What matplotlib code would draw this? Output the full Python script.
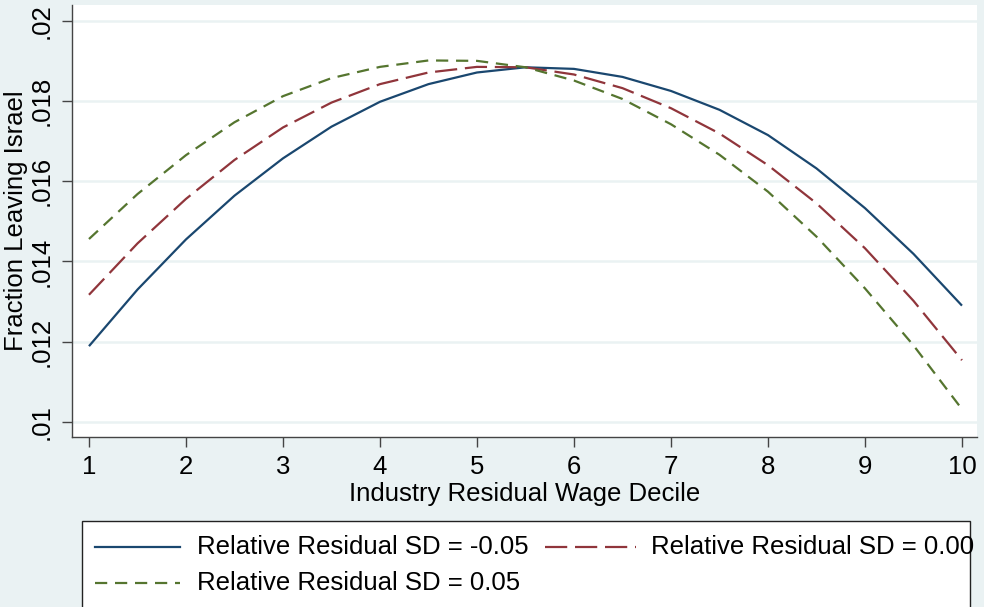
import matplotlib
matplotlib.use("Agg")
import matplotlib.pyplot as plt
from matplotlib.lines import Line2D
from matplotlib.patches import Rectangle

# ---------------- data ----------------
deciles = [1, 1.5, 2, 2.5, 3, 3.5, 4, 4.5, 5, 5.5, 6, 6.5, 7, 7.5, 8, 8.5, 9, 9.5, 10]
sd_neg = [0.01189, 0.01330, 0.01455, 0.01564, 0.01657, 0.01736, 0.01798, 0.01842,
          0.01871, 0.01884, 0.01880, 0.01860, 0.01825, 0.01778, 0.01715, 0.01632,
          0.01533, 0.01419, 0.01290]
sd_zero = [0.01317, 0.01445, 0.01556, 0.01653, 0.01734, 0.01796, 0.01842, 0.01871,
           0.01885, 0.01884, 0.01866, 0.01832, 0.01782, 0.01719, 0.01640, 0.01545,
           0.01433, 0.01302, 0.01154]
sd_pos = [0.01456, 0.01568, 0.01665, 0.01747, 0.01812, 0.01857, 0.01885, 0.01901,
          0.01900, 0.01884, 0.01851, 0.01805, 0.01742, 0.01666, 0.01574, 0.01462,
          0.01333, 0.01191, 0.01032]
series_labels = ["Relative Residual SD = -0.05",
                 "Relative Residual SD = 0.00",
                 "Relative Residual SD = 0.05"]
x_ticks = [1, 2, 3, 4, 5, 6, 7, 8, 9, 10]
y_ticks = [0.010, 0.012, 0.014, 0.016, 0.018, 0.020]
y_ticklabels = [".01", ".012", ".014", ".016", ".018", ".02"]
x_title = "Industry Residual Wage Decile"
y_title = "Fraction Leaving Israel"

# ---------------- style ----------------
W, H = 984, 607
BG = "#EAF2F3"
NAVY = "#1A476F"
MAROON = "#90353B"
GREEN = "#55752F"
FS = 18.5
plt.rcParams["font.family"] = ["Liberation Sans", "DejaVu Sans"]

fig = plt.figure(figsize=(W / 100, H / 100), dpi=100, facecolor=BG)

def fx(px):
    return px / W

def fy(py):
    return 1 - py / H

ax_l, ax_r, ax_t, ax_b = 72, 977, 5, 437
ax = fig.add_axes([fx(ax_l), fy(ax_b), fx(ax_r - ax_l), (ax_b - ax_t) / H])
ax.set_facecolor("white")

styles = [
    dict(color=NAVY, linestyle="-"),
    dict(color=MAROON, linestyle=(0, (10, 3.5))),
    dict(color=GREEN, linestyle=(0, (5.5, 3.5))),
]
for ys, st, lab in zip([sd_neg, sd_zero, sd_pos], styles, series_labels):
    ax.plot(deciles, ys, linewidth=1.6, label=lab, solid_capstyle="butt",
            dash_capstyle="butt", **st)

ax.set_xlim(0.825, 10.155)
ax.set_ylim(0.009626, 0.020392)
ax.set_xticks(x_ticks)
ax.set_xticklabels([str(t) for t in x_ticks], fontsize=FS)
ax.set_yticks(y_ticks)
ax.set_yticklabels(y_ticklabels, fontsize=FS, rotation=90, va="center")
ax.grid(axis="y", color=BG, linewidth=1.8)
ax.set_axisbelow(True)
for s in ["top", "right"]:
    ax.spines[s].set_visible(False)
for s in ["left", "bottom"]:
    ax.spines[s].set_color("#444444")
    ax.spines[s].set_linewidth(1.0)
ax.tick_params(axis="both", length=7, width=1.0, color="#444444", pad=6)

ax.set_xlabel(x_title, fontsize=FS, labelpad=0)
ax.xaxis.set_label_coords(0.5, -0.105)
ax.set_ylabel(y_title, fontsize=FS)
ax.yaxis.set_label_coords(-0.0486, 0.5)

# ---------------- legend (Stata-like, drawn manually) ----------------
box = Rectangle((fx(82), fy(640)), fx(970 - 82), (640 - 521) / H,
                transform=fig.transFigure, facecolor="white",
                edgecolor="#222222", linewidth=1.0, zorder=1)
fig.patches.append(box)

entries = [
    (95, 180, 197, 547, 0),
    (545, 636, 651, 547, 1),
    (95, 180, 197, 583, 2),
]
for x0, x1, tx, yy, i in entries:
    ln = Line2D([fx(x0), fx(x1)], [fy(yy), fy(yy)], transform=fig.transFigure,
                linewidth=1.6, zorder=2, **styles[i])
    fig.lines.append(ln)
    fig.text(fx(tx), fy(yy), series_labels[i], fontsize=FS, ha="left",
             va="center", zorder=3)

fig.savefig("out.png", dpi=100, facecolor=BG)
